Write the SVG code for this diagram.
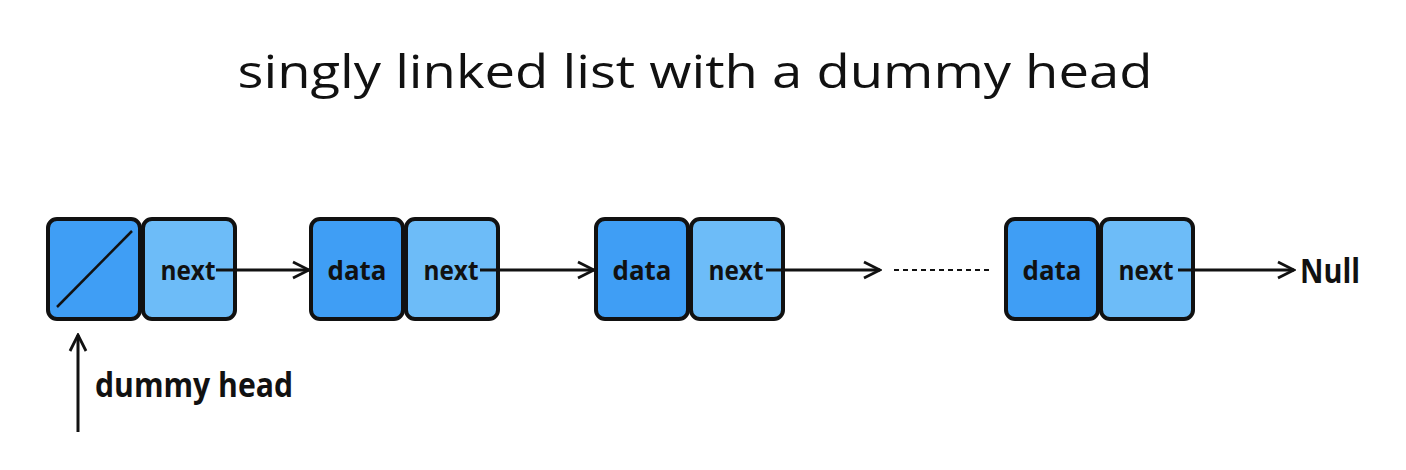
<svg xmlns="http://www.w3.org/2000/svg" width="1406" height="470" viewBox="0 0 1406 470">
<style>
.cell{stroke:#111;stroke-width:4}
.d{fill:#3f9ef5}
.n{fill:#6dbcf8}
.lbl{font-family:"Open Sans","Liberation Sans",sans-serif;font-weight:bold;font-size:27px;fill:#111;text-anchor:middle}
.edge{stroke:#111;stroke-width:3;fill:none}
.title{font-family:"Open Sans","Liberation Sans",sans-serif;font-size:46px;fill:#111;text-anchor:middle}
</style>
<defs>
<marker id="ah2" viewBox="0 0 20 20" refX="18" refY="10" markerWidth="20" markerHeight="20" markerUnits="userSpaceOnUse" orient="auto">
<path d="M2,2 L18,10 L2,18" fill="none" stroke="#111" stroke-width="2.8"/>
</marker>
</defs>
<rect width="1406" height="470" fill="#fff"/>
<text class="title" x="695" y="88" textLength="915" lengthAdjust="spacingAndGlyphs">singly linked list with a dummy head</text>

<g id="node-dummy">
<rect class="cell d" x="48" y="219" width="92" height="100" rx="9"/>
<line x1="57" y1="307" x2="132" y2="231" stroke="#111" stroke-width="2.5"/>
<rect class="cell n" x="143" y="219" width="92" height="100" rx="9"/>
<text class="lbl" x="188" y="280" textLength="55" lengthAdjust="spacingAndGlyphs">next</text>
</g>
<g id="node-1">
<rect class="cell d" x="311" y="219" width="92" height="100" rx="9"/>
<text class="lbl" x="357" y="280" textLength="59" lengthAdjust="spacingAndGlyphs">data</text>
<rect class="cell n" x="406" y="219" width="92" height="100" rx="9"/>
<text class="lbl" x="451" y="280" textLength="55" lengthAdjust="spacingAndGlyphs">next</text>
</g>
<g id="node-2">
<rect class="cell d" x="596" y="219" width="92" height="100" rx="9"/>
<text class="lbl" x="642" y="280" textLength="59" lengthAdjust="spacingAndGlyphs">data</text>
<rect class="cell n" x="691" y="219" width="92" height="100" rx="9"/>
<text class="lbl" x="736" y="280" textLength="55" lengthAdjust="spacingAndGlyphs">next</text>
</g>
<g id="node-3">
<rect class="cell d" x="1006" y="219" width="92" height="100" rx="9"/>
<text class="lbl" x="1052" y="280" textLength="59" lengthAdjust="spacingAndGlyphs">data</text>
<rect class="cell n" x="1101" y="219" width="92" height="100" rx="9"/>
<text class="lbl" x="1146" y="280" textLength="55" lengthAdjust="spacingAndGlyphs">next</text>
</g>
<g id="null">
<text class="lbl" x="1300" y="283" textLength="60" lengthAdjust="spacingAndGlyphs" style="text-anchor:start;font-size:34px">Null</text>
</g>
<g id="dummy-label">
<text class="lbl" x="95" y="397" textLength="198" lengthAdjust="spacingAndGlyphs" style="text-anchor:start;font-size:34px">dummy head</text>
</g>

<g id="connectors">
<line class="edge" x1="216" y1="270" x2="309" y2="270" marker-end="url(#ah2)"/>
<line class="edge" x1="480" y1="270" x2="594" y2="270" marker-end="url(#ah2)"/>
<line class="edge" x1="766" y1="270" x2="880" y2="270" marker-end="url(#ah2)"/>
<line x1="894" y1="270" x2="993" y2="270" stroke="#111" stroke-width="2" stroke-dasharray="5,4"/>
<line class="edge" x1="1178" y1="270" x2="1294" y2="270" marker-end="url(#ah2)"/>
<line class="edge" x1="78" y1="432" x2="78" y2="335" marker-end="url(#ah2)"/>
</g>
</svg>
